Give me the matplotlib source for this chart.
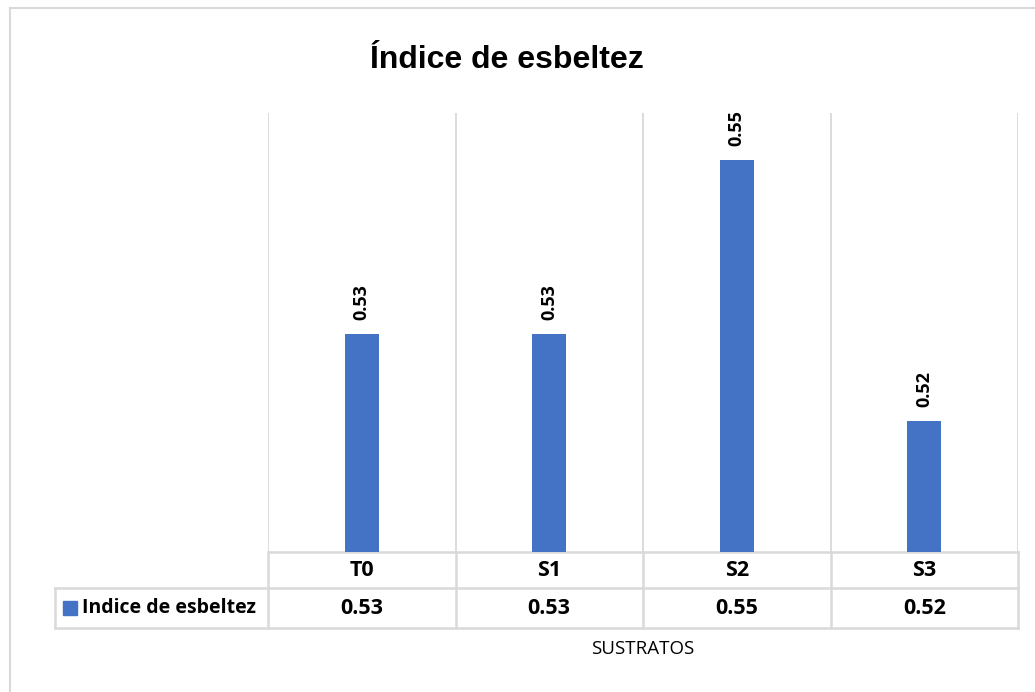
import matplotlib.pyplot as plt
from matplotlib.lines import Line2D
from matplotlib.patches import Rectangle
import matplotlib.transforms as mtransforms

categories = ['T0', 'S1', 'S2', 'S3']
values = [0.5348, 0.5348, 0.5547, 0.5249]
series_name = 'Indice de esbeltez'
title = 'Índice de esbeltez'
xlabel = 'SUSTRATOS'

W, H = 1035, 692
bar_color = '#4472C4'
grid_color = '#D9D9D9'
table_font = 'Open Sans'

fig = plt.figure(figsize=(W / 100, H / 100), dpi=100)

# plot area in pixels: x 268..1018, y 113..552
left, right, top, bottom = 268, 1018, 113, 552
ax = fig.add_axes([left / W, 1 - bottom / H, (right - left) / W, (bottom - top) / H])

x = list(range(len(categories)))
ax.bar(x, values, width=0.18, color=bar_color, zorder=3)
ax.set_xlim(-0.5, len(categories) - 0.5)
ax.set_ylim(0.51, 0.56)
for s in ax.spines.values():
    s.set_visible(False)
ax.set_xticks([])
ax.set_yticks([])

for xi in [i - 0.5 for i in range(len(categories) + 1)]:
    ax.axvline(xi, color=grid_color, lw=1.3, zorder=1)

for xi, v in zip(x, values):
    ax.annotate(f'{v:.2f}', (xi, v), xytext=(0, 10), textcoords='offset points',
                rotation=90, ha='center', va='bottom', fontsize=13,
                fontweight='bold', family=table_font)

# data table under the plot
trans = mtransforms.blended_transform_factory(ax.transData, ax.transAxes)
ph = bottom - top
colw = (right - left) / len(categories)
r1 = -(588 - bottom) / ph
r2 = -(628 - bottom) / ph
leg_left = -0.5 + (55 - left) / colw
xr = len(categories) - 0.5

def hline(x0, x1, y):
    ax.add_line(Line2D([x0, x1], [y, y], transform=trans, color=grid_color,
                       lw=1.8, clip_on=False))

def vline(xx, y0, y1):
    ax.add_line(Line2D([xx, xx], [y0, y1], transform=trans, color=grid_color,
                       lw=1.8, clip_on=False))

hline(-0.5, xr, 0)
hline(leg_left, xr, r1)
hline(leg_left, xr, r2)
for i in range(len(categories) + 1):
    vline(i - 0.5, 0, r2)
vline(leg_left, r1, r2)

for xi, c, v in zip(x, categories, values):
    ax.text(xi, r1 / 2, c, transform=trans, ha='center', va='center',
            fontsize=15.5, fontweight='bold', family=table_font)
    ax.text(xi, (r1 + r2) / 2, f'{v:.2f}', transform=trans, ha='center',
            va='center', fontsize=15.5, fontweight='bold', family=table_font)

# legend key square
sq = 14
ax.add_patch(Rectangle((leg_left + (63 - 55) / colw, (r1 + r2) / 2 - (sq / 2) / ph),
                       sq / colw, sq / ph, transform=trans, color=bar_color,
                       clip_on=False))
ax.text(leg_left + (82 - 55) / colw, (r1 + r2) / 2, series_name, transform=trans,
        ha='left', va='center', fontsize=14, fontweight='bold', family=table_font)

fig.text(643 / W, 1 - 649 / H, xlabel, ha='center', va='center', fontsize=13.5,
         family=table_font)
fig.text(507 / W, 1 - 60 / H, title, ha='center', va='center', fontsize=23,
         fontweight='bold', family='Liberation Sans')

# chart border (top and left visible)
fig.add_artist(Line2D([10 / W, 1], [1 - 8 / H, 1 - 8 / H], color=grid_color, lw=1.5))
fig.add_artist(Line2D([10 / W, 10 / W], [0, 1 - 8 / H], color=grid_color, lw=1.5))

fig.savefig('out.png', dpi=100)
